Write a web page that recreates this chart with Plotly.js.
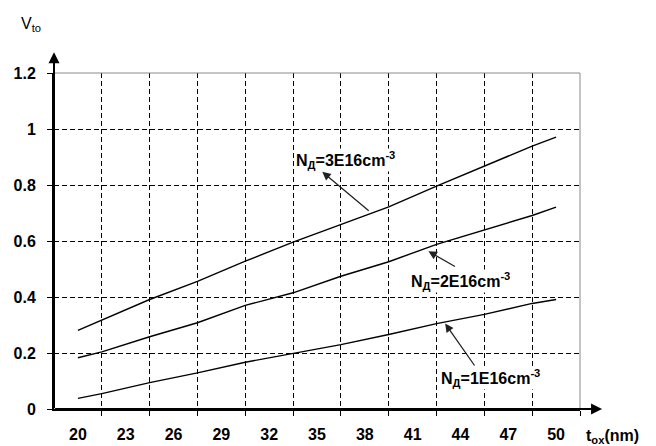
<!DOCTYPE html>
<html>
<head>
<meta charset="utf-8">
<script src="https://cdn.plot.ly/plotly-3.0.1.min.js"></script>
<style>html,body{margin:0;padding:0;background:#fff;}#chart{width:656px;height:446px;}</style>
</head>
<body>
<div id="chart"></div>
<script>
// t_ox (nm) sample positions
const tox = [20, 21.5, 24.5, 27.5, 30.5, 33.5, 36.5, 39.5, 42.5, 45.5, 48.5, 50];
// V_to for the three doping levels
const v3E16 = [0.281, 0.317, 0.391, 0.456, 0.528, 0.596, 0.659, 0.722, 0.796, 0.867, 0.939, 0.971];
const v2E16 = [0.183, 0.204, 0.258, 0.308, 0.370, 0.415, 0.474, 0.526, 0.588, 0.639, 0.691, 0.721];
const v1E16 = [0.038, 0.055, 0.094, 0.129, 0.167, 0.198, 0.230, 0.266, 0.305, 0.338, 0.377, 0.391];
const seriesNames = ['N<sub>Д</sub>=3E16cm<sup>-3</sup>', 'N<sub>Д</sub>=2E16cm<sup>-3</sup>', 'N<sub>Д</sub>=1E16cm<sup>-3</sup>'];
// tick labels
const xTickLabels = [20, 23, 26, 29, 32, 35, 38, 41, 44, 47, 50];
const yTickLabels = [0, 0.2, 0.4, 0.6, 0.8, 1, 1.2];

const xRange = [18.5, 51.5];
const yRange = [0, 1.2];
const gridX = [];
for (let v = xRange[0] + 3; v <= xRange[1] + 1e-9; v += 3) gridX.push(v);

const FONT = 'Liberation Sans, Arial, sans-serif';
const lineStyle = {color: '#000', width: 1.4};
const traces = [v3E16, v2E16, v1E16].map((ys, i) => ({
  x: tox, y: ys, type: 'scatter', mode: 'lines', line: lineStyle, name: seriesNames[i], showlegend: false, hoverinfo: 'skip'
}));

const labelFont = {family: FONT, size: 16, color: '#000', weight: 'bold'};
const GRID_DASH = '5px,3px';

const layout = {
  width: 656, height: 446,
  margin: {l: 53.5, r: 76, t: 73, b: 36.5},
  paper_bgcolor: '#fff', plot_bgcolor: '#fff',
  showlegend: false,
  xaxis: {
    range: xRange, tickmode: 'array', tickvals: xTickLabels, ticktext: xTickLabels.map(String),
    ticks: '', showgrid: false, ticklabelstandoff: 10, tickfont: labelFont,
    minor: {tickmode: 'array', tickvals: gridX, ticks: 'outside', ticklen: 5, tickwidth: 1, tickcolor: '#000',
            showgrid: true, gridcolor: '#000', gridwidth: 1, griddash: GRID_DASH},
    showline: true, linecolor: '#000', linewidth: 2, zeroline: false, fixedrange: true
  },
  yaxis: {
    range: yRange, tickmode: 'array', tickvals: yTickLabels, ticktext: yTickLabels.map(String),
    ticks: 'outside', ticklen: 5, tickwidth: 1, tickcolor: '#000',
    showgrid: true, gridcolor: '#000', gridwidth: 1, griddash: GRID_DASH,
    showline: true, linecolor: '#000', linewidth: 2, zeroline: false,
    ticklabelstandoff: 8, tickfont: labelFont, fixedrange: true
  },
  shapes: [
    {type: 'line', xref: 'paper', yref: 'paper', x0: 0, x1: 1, y0: 1, y1: 1, line: {color: '#8a8a8a', width: 1}},
    {type: 'line', xref: 'paper', yref: 'paper', x0: 1, x1: 1, y0: 0, y1: 1, line: {color: '#8a8a8a', width: 1}}
  ],
  annotations: [
    // axis arrows
    {xref: 'paper', yref: 'paper', x: 0, y: 1.062, ax: 0, ay: 357.5, text: '', showarrow: true,
     arrowhead: 2, arrowsize: 1.1, arrowwidth: 2, arrowcolor: '#000'},
    {xref: 'paper', yref: 'paper', x: 1.042, y: 0, ax: -548.5, ay: 0, text: '', showarrow: true,
     arrowhead: 2, arrowsize: 1.1, arrowwidth: 2, arrowcolor: '#000'},
    // axis titles
    {xref: 'paper', yref: 'paper', x: -0.043, y: 1.143, xanchor: 'center', yanchor: 'middle', showarrow: false,
     text: 'V<sub>to</sub>', font: {family: FONT, size: 16, color: '#000'}},
    {xref: 'paper', yref: 'paper', x: 1.0, y: -0.082, xanchor: 'left', yanchor: 'middle', showarrow: false,
     xshift: 4, text: 't<sub>ox</sub>(nm)', font: labelFont},
    // series label texts (white background hides grid behind them)
    {xref: 'x', yref: 'y', x: 36.76, y: 0.890, showarrow: false, text: seriesNames[0], font: labelFont, bgcolor: '#fff', borderpad: 0},
    {xref: 'x', yref: 'y', x: 43.98, y: 0.458, showarrow: false, text: seriesNames[1], font: labelFont, bgcolor: '#fff', borderpad: 0},
    {xref: 'x', yref: 'y', x: 45.86, y: 0.110, showarrow: false, text: seriesNames[2], font: labelFont, bgcolor: '#fff', borderpad: 0},
    // series label arrows
    {xref: 'x', yref: 'y', axref: 'x', ayref: 'y', x: 35.33, y: 0.847, ax: 38.34, ay: 0.704, text: '',
     showarrow: true, arrowhead: 2, arrowsize: 1.3, arrowwidth: 1.3, arrowcolor: '#222'},
    {xref: 'x', yref: 'y', axref: 'x', ayref: 'y', x: 41.99, y: 0.563, ax: 43.75, ay: 0.506, text: '',
     showarrow: true, arrowhead: 2, arrowsize: 1.3, arrowwidth: 1.3, arrowcolor: '#222'},
    {xref: 'x', yref: 'y', axref: 'x', ayref: 'y', x: 43.04, y: 0.305, ax: 44.95, ay: 0.15, text: '',
     showarrow: true, arrowhead: 2, arrowsize: 1.3, arrowwidth: 1.3, arrowcolor: '#222'}
  ]
};

Plotly.newPlot('chart', traces, layout, {displayModeBar: false, staticPlot: true});
</script>
</body>
</html>
